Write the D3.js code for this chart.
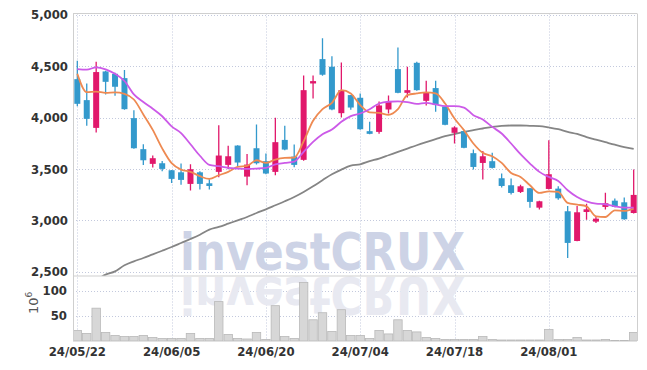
<!DOCTYPE html>
<html>
<head>
<meta charset="utf-8">
<script src="https://cdn.jsdelivr.net/npm/d3@7"></script>
<style>
  body { margin: 0; background: #fff; }
  svg { display: block; }
</style>
</head>
<body>
<svg id="chart" width="647" height="370"></svg>
<script>
// trading days shown
const dates = [
  "24/05/22","24/05/23","24/05/24","24/05/27","24/05/28","24/05/29","24/05/30","24/05/31",
  "24/06/03","24/06/04","24/06/05","24/06/07","24/06/10","24/06/11","24/06/12","24/06/13",
  "24/06/14","24/06/17","24/06/18","24/06/19","24/06/20","24/06/21","24/06/24","24/06/25",
  "24/06/26","24/06/27","24/06/28","24/07/01","24/07/02","24/07/03","24/07/04","24/07/05",
  "24/07/08","24/07/09","24/07/10","24/07/11","24/07/12","24/07/15","24/07/16","24/07/17",
  "24/07/18","24/07/19","24/07/22","24/07/23","24/07/24","24/07/25","24/07/26","24/07/29",
  "24/07/30","24/07/31","24/08/01","24/08/02","24/08/05","24/08/06","24/08/07","24/08/08",
  "24/08/09","24/08/12","24/08/13","24/08/14"
];

const open = [4373,4169,3899,4448,4425,4383,3994,3692,3549,3555,3487,3467,3354,3467,3360,
  3471,3539,3727,3425,3701,3575,3471,3782,3620,3588,4331,4568,4494,4042,4218,
  4192,3867,3860,4078,4471,4240,4532,4162,4286,4107,3851,3867,3653,3558,3575,
  3409,3341,3276,3312,3123,3305,3308,3088,2799,3081,2987,3130,3191,3175,3071];
const high = [4552,4331,4542,4455,4435,4461,4071,3740,3630,3578,3490,3552,3545,3477,3399,
  3925,3724,3730,3646,3932,3649,3997,3919,3737,4409,4409,4770,4597,4536,4220,
  4234,3958,4156,4214,4682,4494,4542,4357,4357,4110,3916,3870,3688,3675,3656,
  3455,3406,3347,3315,3190,3779,3331,3140,3140,3162,3039,3269,3211,3221,3493];
const low = [4110,3919,3854,4224,4211,4075,3695,3539,3513,3477,3364,3347,3289,3299,3299,
  3419,3497,3519,3341,3542,3448,3438,3682,3516,3580,4185,4405,4070,4000,4075,
  3880,3838,3841,4039,4235,4195,4260,4117,4055,3925,3747,3700,3493,3396,3505,
  3318,3250,3266,3123,3104,3300,3201,2633,2795,3006,2974,3104,3128,3005,3065];
const close = [4133,3987,4442,4347,4299,4081,3701,3584,3604,3500,3403,3393,3497,3354,3334,
  3630,3623,3562,3542,3555,3455,3760,3688,3539,4266,4354,4416,4078,4266,4097,
  3886,3841,4117,4153,4240,4266,4266,4247,4123,3929,3903,3705,3519,3623,3510,
  3334,3266,3331,3179,3185,3448,3214,2780,3078,3107,3016,3166,3130,3010,3247];

// volume, millions
const volume = [21,15,65,17,11,9,9,11,7,5,5,5,15,5,5,
  78,13,5,4,17,3,70,9,5,116,42,56,19,62,11,
  11,5,21,14,42,21,18,7,5,3,3,3,3,9,3,
  2,2,2,2,2,23,3,3,7,2,2,3,1,1,17];

// moving averages
const maShort = [4425,4246,4252,4240,4244,4230,4175,4030,3880,3700,3556,3493,3471,3429,3402,
  3438,3471,3519,3529,3584,3558,3591,3607,3610,3769,3968,4081,4143,4266,4234,
  4120,4049,4045,4026,4081,4218,4234,4244,4234,4136,3990,3877,3747,3656,3623,
  3558,3461,3422,3341,3266,3282,3276,3169,3153,3136,3039,3032,3097,3091,3114];
const maMid = [4471,4465,4488,4469,4425,4355,4225,4150,4085,4012,3914,3848,3740,3628,3540,
  3526,3510,3503,3500,3503,3510,3545,3558,3571,3666,3763,3838,3883,3958,4013,
  4039,4081,4136,4153,4156,4149,4133,4143,4127,4110,4110,4097,4023,3981,3909,
  3844,3747,3643,3552,3471,3422,3383,3292,3227,3185,3162,3156,3136,3123,3123];
const maLong = [2350,2385,2420,2471,2503,2562,2601,2633,2669,2704,2740,2779,2818,2860,2909,
  2935,2967,3000,3032,3071,3107,3146,3185,3227,3276,3331,3390,3448,3493,3532,
  3545,3575,3601,3633,3666,3698,3730,3760,3789,3818,3838,3860,3877,3893,3909,
  3919,3922,3922,3919,3916,3903,3886,3860,3840,3810,3785,3760,3735,3712,3695];

const priceTicks = [2500,3000,3500,4000,4500,5000];
const volTicks = [50,100];
const dateTicks = [0,10,20,30,40,50].map(i => dates[i]);

const plotLeft = 73, plotRight = 637, plotTop = 13.5, sep = 276, plotBottom = 341;
const font = "'DejaVu Sans Condensed', 'DejaVu Sans', sans-serif";

const svg = d3.select("#chart");

const x = d3.scaleBand().domain(dates).range([72.6, 638.4]).paddingInner(0).paddingOuter(0);
const cx = d => x(d) + x.bandwidth() / 2;
const y = d3.scaleLinear().domain([2500, 5000]).range([271.7, 14.7]);
const yv = d3.scaleLinear().domain([0, 100]).range([plotBottom, 290.5]);

const defs = svg.append("defs");
defs.append("clipPath").attr("id", "priceClip")
  .append("rect").attr("x", plotLeft).attr("y", plotTop).attr("width", plotRight - plotLeft).attr("height", sep - plotTop);
defs.append("clipPath").attr("id", "volClip")
  .append("rect").attr("x", plotLeft).attr("y", sep).attr("width", plotRight - plotLeft).attr("height", plotBottom - sep);

// grid
const grid = svg.append("g").attr("stroke", "#c3c9dd").attr("stroke-dasharray", "1,2").attr("stroke-width", 1);
grid.selectAll(".hp").data(priceTicks).join("line")
  .attr("x1", plotLeft).attr("x2", plotRight)
  .attr("y1", d => Math.round(y(d)) + 0.5).attr("y2", d => Math.round(y(d)) + 0.5);
grid.selectAll(".hv").data(volTicks).join("line")
  .attr("x1", plotLeft).attr("x2", plotRight)
  .attr("y1", d => Math.round(yv(d)) + 0.5).attr("y2", d => Math.round(yv(d)) + 0.5);
grid.selectAll(".v").data(dateTicks).join("line")
  .attr("x1", d => Math.round(cx(d)) + 0.5).attr("x2", d => Math.round(cx(d)) + 0.5)
  .attr("y1", plotTop).attr("y2", plotBottom);

// watermark, drawn once and reused for its reflection
defs.append("text").attr("id", "wm")
  .attr("x", 180).attr("y", 270)
  .attr("textLength", 285).attr("lengthAdjust", "spacingAndGlyphs")
  .style("font", "bold 52px 'DejaVu Sans', sans-serif")
  .text("investCRUX");
svg.append("use").attr("href", "#wm").attr("fill", "#cdd3e6");
svg.append("g").attr("clip-path", "url(#volClip)")
  .append("use").attr("href", "#wm")
  .attr("transform", "translate(0,547) scale(1,-1)")
  .attr("fill", "#e8e9f1");

// volume bars
svg.append("g").attr("clip-path", "url(#volClip)")
  .selectAll("rect").data(dates).join("rect")
  .attr("x", d => x(d) + 0.5)
  .attr("width", x.bandwidth() - 1)
  .attr("y", (d, i) => yv(volume[i]))
  .attr("height", (d, i) => plotBottom - yv(volume[i]))
  .attr("fill", "#d7d7d7").attr("stroke", "#b9b9b9").attr("stroke-width", 0.8);

// price panel
const price = svg.append("g").attr("clip-path", "url(#priceClip)");

const line = arr => d3.line()
  .x((d, i) => cx(dates[i]))
  .y(d => y(d))
  .curve(d3.curveMonotoneX)(arr);

price.append("path").attr("d", line(maLong))
  .attr("fill", "none").attr("stroke", "#858585").attr("stroke-width", 1.8);

const up = "#e1186b", down = "#3399cc";
const candle = price.append("g").selectAll("g").data(dates).join("g");
candle.append("line")
  .attr("x1", d => cx(d)).attr("x2", d => cx(d))
  .attr("y1", (d, i) => y(high[i])).attr("y2", (d, i) => y(low[i]))
  .attr("stroke", (d, i) => close[i] >= open[i] ? up : down)
  .attr("stroke-width", 1.3);
candle.append("rect")
  .attr("x", d => cx(d) - 3)
  .attr("width", 6)
  .attr("y", (d, i) => y(Math.max(open[i], close[i])))
  .attr("height", (d, i) => Math.max(1.5, Math.abs(y(open[i]) - y(close[i]))))
  .attr("fill", (d, i) => close[i] >= open[i] ? up : down);

price.append("path").attr("d", line(maShort))
  .attr("fill", "none").attr("stroke", "#ee8a52").attr("stroke-width", 1.8);
price.append("path").attr("d", line(maMid))
  .attr("fill", "none").attr("stroke", "#cc5ae8").attr("stroke-width", 1.8);

// frame
const frame = svg.append("g").attr("stroke", "#cfcfcf").attr("stroke-width", 1).attr("fill", "none");
frame.append("line").attr("x1", plotLeft).attr("x2", plotRight).attr("y1", plotTop).attr("y2", plotTop);
frame.append("line").attr("x1", plotLeft).attr("x2", plotRight).attr("y1", sep).attr("y2", sep);
frame.append("line").attr("x1", plotLeft).attr("x2", plotRight).attr("y1", plotBottom + 0.5).attr("y2", plotBottom + 0.5).attr("stroke", "#e2e2e2");
frame.append("line").attr("x1", plotLeft + 0.5).attr("x2", plotLeft + 0.5).attr("y1", plotTop).attr("y2", plotBottom);
frame.append("line").attr("x1", plotRight + 0.5).attr("x2", plotRight + 0.5).attr("y1", plotTop).attr("y2", plotBottom);

// axes
function styleAxis(g) {
  g.select(".domain").remove();
  g.selectAll("line").remove();
  g.selectAll("text")
    .style("font-family", font).style("font-weight", "bold").style("font-size", "13px")
    .attr("fill", "#333");
}
svg.append("g").attr("transform", `translate(${plotLeft},0)`)
  .call(d3.axisLeft(y).tickValues(priceTicks).tickFormat(d3.format(",")).tickSize(0).tickPadding(5))
  .call(styleAxis);
svg.append("g").attr("transform", `translate(${plotLeft},0)`)
  .call(d3.axisLeft(yv).tickValues(volTicks).tickSize(0).tickPadding(6))
  .call(styleAxis);
svg.append("g").attr("transform", `translate(0,${plotBottom})`)
  .call(d3.axisBottom(x).tickValues(dateTicks).tickSize(0).tickPadding(6))
  .call(styleAxis);

// volume unit
const unit = svg.append("text")
  .attr("transform", "translate(38,314) rotate(-90)")
  .style("font-family", "'DejaVu Sans', sans-serif").style("font-size", "13px")
  .attr("fill", "#555");
unit.append("tspan").text("10");
unit.append("tspan").attr("dy", -6).style("font-size", "9px").text("6");
</script>
</body>
</html>
